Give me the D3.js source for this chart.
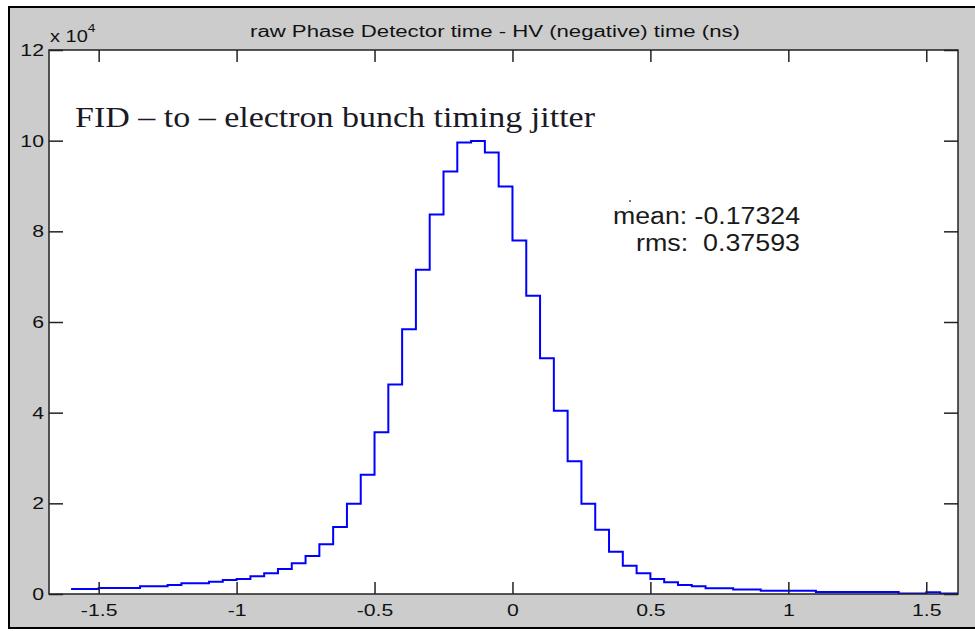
<!DOCTYPE html>
<html>
<head>
<meta charset="utf-8">
<script src="https://cdn.jsdelivr.net/npm/d3@7"></script>
<style>
  body { margin: 0; background: #fff; }
  svg { display: block; }
  text { white-space: pre; }
</style>
</head>
<body>
<script>
// histogramme : nombre d'evenements par classe de 0.05 ns, premiere classe a -1.6 ns
var binStart = -1.6;
var binWidth = 0.05;
var counts = [1100, 1100, 1300, 1300, 1300, 1700, 1700, 2000, 2350, 2350,
    2700, 3100, 3300, 3900, 4560, 5500, 6800, 8400, 11000, 14800,
    19900, 26300, 35700, 46200, 58400, 71500, 83700, 93200, 99600, 99900,
    97400, 89900, 78000, 65800, 52000, 40400, 29300, 19900, 14200, 9300,
    6250, 4560, 3300, 2600, 2000, 1700, 1250, 1250, 1000, 1000,
    740, 740, 740, 740, 440, 440, 440, 440, 440, 440,
    100, 100, 370, 100];

var xTicks = [-1.5, -1, -0.5, 0, 0.5, 1, 1.5];
var yTicks = [0, 20000, 40000, 60000, 80000, 100000, 120000];

var titre = "raw Phase Detector time - HV (negative) time (ns)";
var annotation = "FID \u2013 to \u2013 electron bunch timing jitter";
var stats = ["mean: -0.17324", "rms:  0.37593"];

var W = 975, H = 631;
var zone = {left: 49, right: 958, top: 50, bottom: 594};
var police = "Liberation Sans, Arial, Helvetica, sans-serif";

var svg = d3.select("body").append("svg")
    .attr("width", W)
    .attr("height", H);

// fond gris de la figure avec son cadre noir
svg.append("rect")
    .attr("x", 9).attr("y", 7)
    .attr("width", 990).attr("height", 621)
    .attr("fill", "#cccccc")
    .attr("stroke", "#000")
    .attr("stroke-width", 2);

// zone de trace blanche
svg.append("rect")
    .attr("x", zone.left).attr("y", zone.top)
    .attr("width", zone.right - zone.left)
    .attr("height", zone.bottom - zone.top)
    .attr("fill", "#fff");

var x = d3.scaleLinear().domain([-1.68, 1.615]).range([zone.left, zone.right]);
var y = d3.scaleLinear().domain([0, 120000]).range([zone.bottom, zone.top]);

svg.append("clipPath").attr("id", "clip")
    .append("rect")
    .attr("x", zone.left).attr("y", zone.top)
    .attr("width", zone.right - zone.left)
    .attr("height", zone.bottom - zone.top);

// courbe en escalier
var points = counts.map((c, i) => [binStart + i * binWidth, c]);
points.push([x.domain()[1], counts[counts.length - 1]]);

var ligne = d3.line()
    .x(d => x(d[0]))
    .y(d => y(d[1]))
    .curve(d3.curveStepAfter);

svg.append("path")
    .datum(points)
    .attr("clip-path", "url(#clip)")
    .attr("fill", "none")
    .attr("stroke", "#0000ff")
    .attr("stroke-width", 2)
    .attr("d", ligne);

function styleAxe(g) {
    g.select(".domain").remove();
    g.selectAll("line").attr("stroke", "#222").attr("stroke-width", 1.5);
    g.attr("font-family", police).attr("font-size", 17);
    g.selectAll("text").attr("fill", "#111");
}

// format a la matlab : -1, -0.5, 0 (tiret simple)
var formatTick = d => String(d);

// axe du bas avec etiquettes
svg.append("g")
    .attr("transform", "translate(0," + zone.bottom + ")")
    .call(d3.axisBottom(x).tickValues(xTicks).tickFormat(formatTick)
        .tickSizeInner(-12).tickSizeOuter(0).tickPadding(10))
    .call(styleAxe)
    .selectAll("text").attr("transform", "scale(1.25,1)");

// axe du haut, sans etiquettes
svg.append("g")
    .attr("transform", "translate(0," + zone.top + ")")
    .call(d3.axisTop(x).tickValues(xTicks).tickSizeInner(-12).tickSizeOuter(0).tickFormat(""))
    .call(styleAxe);

// axe de gauche
svg.append("g")
    .attr("transform", "translate(" + zone.left + ",0)")
    .call(d3.axisLeft(y).tickValues(yTicks).tickFormat(d => String(d / 10000))
        .tickSizeInner(-14).tickSizeOuter(0).tickPadding(4))
    .call(styleAxe)
    .selectAll("text").attr("transform", "scale(1.25,1)");

// axe de droite
svg.append("g")
    .attr("transform", "translate(" + zone.right + ",0)")
    .call(d3.axisRight(y).tickValues(yTicks).tickSizeInner(-14).tickSizeOuter(0).tickFormat(""))
    .call(styleAxe);

// cadre de la zone de trace
svg.append("rect")
    .attr("x", zone.left).attr("y", zone.top)
    .attr("width", zone.right - zone.left)
    .attr("height", zone.bottom - zone.top)
    .attr("fill", "none")
    .attr("stroke", "#222")
    .attr("stroke-width", 1.5);

// facteur d'echelle "x 10^4"
var puissance = svg.append("text")
    .attr("transform", "translate(50,42) scale(1.25,1)")
    .attr("font-family", police)
    .attr("font-size", 16)
    .attr("fill", "#111");
puissance.append("tspan").text("x 10");
puissance.append("tspan").attr("dy", -10).attr("font-size", 11).text("4");

// titre
svg.append("text")
    .attr("x", 495).attr("y", 37)
    .attr("text-anchor", "middle")
    .attr("font-family", police)
    .attr("font-size", 16)
    .attr("fill", "#111")
    .attr("textLength", 490)
    .attr("lengthAdjust", "spacingAndGlyphs")
    .text(titre);

// annotation en serif
svg.append("text")
    .attr("x", 75).attr("y", 127)
    .attr("font-family", "Liberation Serif, Times New Roman, serif")
    .attr("font-size", 30)
    .attr("fill", "#1a1a26")
    .attr("textLength", 520)
    .attr("lengthAdjust", "spacingAndGlyphs")
    .text(annotation);

// statistiques
var largeurs = [187, 164];
svg.selectAll(".stat").data(stats).enter()
    .append("text")
    .attr("class", "stat")
    .attr("x", 800)
    .attr("y", (d, i) => 224 + i * 26.5)
    .attr("text-anchor", "end")
    .attr("font-family", police)
    .attr("font-size", 23)
    .attr("fill", "#1a1a1a")
    .attr("textLength", (d, i) => largeurs[i])
    .attr("lengthAdjust", "spacingAndGlyphs")
    .text(d => d);

// petit point parasite au-dessus de "mean"
svg.append("circle")
    .attr("cx", 630).attr("cy", 201)
    .attr("r", 1)
    .attr("fill", "#444");
</script>
</body>
</html>
